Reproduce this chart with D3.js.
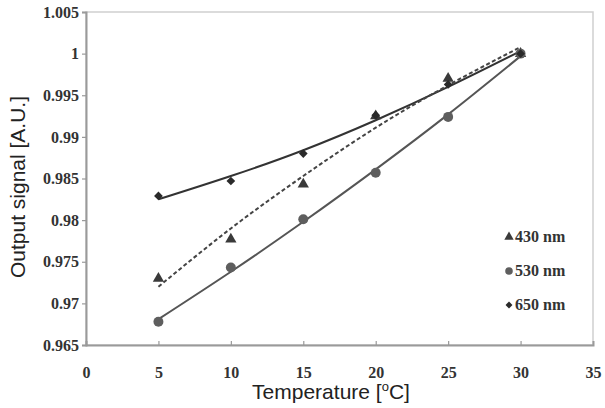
<!DOCTYPE html>
<html><head><meta charset="utf-8">
<script src="https://cdn.jsdelivr.net/npm/d3@7"></script>
<style>body{margin:0;background:#fff}svg{display:block}</style>
</head><body>
<svg id="c" width="605" height="408"></svg>
<script>
const temps = [5, 10, 15, 20, 25, 30];
const xTicks = [0, 5, 10, 15, 20, 25, 30, 35];
const yTicks = [0.965, 0.97, 0.975, 0.98, 0.985, 0.99, 0.995, 1, 1.005];
const yTickLabels = ["0.965", "0.97", "0.975", "0.98", "0.985", "0.99", "0.995", "1", "1.005"];
const seriesNames = ["430 nm", "530 nm", "650 nm"];
const data430 = [0.9730, 0.9777, 0.9843, 0.9925, 0.9970, 1.0000];
const data530 = [0.9678, 0.9743, 0.9801, 0.9857, 0.9924, 1.0000];
const data650 = [0.9829, 0.9847, 0.9880, 0.9926, 0.9963, 1.0000];
const fit430 = [0.9720, 0.9790, 0.9853, 0.9911, 0.9962, 1.0008];
const fit530 = [0.9681, 0.9738, 0.9798, 0.9861, 0.9927, 0.9997];
const fit650 = [0.9825, 0.9853, 0.9884, 0.9920, 0.9960, 1.0003];

const svg = d3.select("#c");
const L = 86, R = 593, T = 12, B = 345;
const x = d3.scaleLinear().domain([0, 35]).range([L, R]);
const y = d3.scaleLinear().domain([0.965, 1.005]).range([B, T]);

// frame (top/right light)
svg.append("rect").attr("x", L).attr("y", T).attr("width", R - L).attr("height", B - T)
  .attr("fill", "none").attr("stroke", "#cfcfcf").attr("stroke-width", 1.5);

// axes
const xAxis = d3.axisBottom(x).tickValues(xTicks).tickSize(-4).tickPadding(22).tickFormat(d3.format("d"));
const gx = svg.append("g").attr("transform", `translate(0,${B})`).call(xAxis);
const yAxis = d3.axisLeft(y).tickValues(yTicks).tickSize(4).tickPadding(3)
  .tickFormat((d, i) => yTickLabels[i]);
const gy = svg.append("g").attr("transform", `translate(${L},0)`).call(yAxis);
[gx, gy].forEach(g => {
  g.select(".domain").attr("stroke", "#9a9a9a").attr("stroke-width", 2);
  g.selectAll(".tick line").attr("stroke", "#9a9a9a").attr("stroke-width", 1.2);
  g.selectAll(".tick text").attr("font-family", "Liberation Serif, serif").attr("font-weight", "bold")
    .attr("font-size", 16).attr("fill", "#333");
});
gx.selectAll(".tick").filter(d => d === 0 || d === 35).select("line").remove();

// fits
const line = d3.line().x((d, i) => x(temps[i])).y(d => y(d)).curve(d3.curveNatural);
svg.append("path").attr("d", line(fit650)).attr("fill", "none").attr("stroke", "#333").attr("stroke-width", 2);
svg.append("path").attr("d", line(fit530)).attr("fill", "none").attr("stroke", "#555").attr("stroke-width", 2);
svg.append("path").attr("d", line(fit430)).attr("fill", "none").attr("stroke", "#444").attr("stroke-width", 2)
  .attr("stroke-dasharray", "4,2.5");

// markers
const symTri = d3.symbol().type(d3.symbolTriangle);
const symCirc = d3.symbol().type(d3.symbolCircle);
const symDiam = d3.symbol().type(d3.symbolSquare);
const series = [
  {vals: data430, sym: symTri, size: 55, lsize: 38, color: "#3a3a3a", rot: 0},
  {vals: data530, sym: symCirc, size: 78, lsize: 45, color: "#5e5e5e", rot: 0},
  {vals: data650, sym: symDiam, size: 38, lsize: 24, color: "#2a2a2a", rot: 45}
];
series.forEach(s => {
  svg.append("g").selectAll("path").data(s.vals).join("path")
    .attr("transform", (d, i) => `translate(${x(temps[i])},${y(d)}) rotate(${s.rot})`)
    .attr("d", s.sym.size(s.size)()).attr("fill", s.color);
});

// legend
const lg = svg.append("g");
series.forEach((s, i) => {
  const yy = 237 + i * 34;
  lg.append("path").attr("transform", `translate(509,${yy}) rotate(${s.rot})`).attr("d", s.sym.size(s.lsize)()).attr("fill", s.color);
  lg.append("text").attr("x", 515).attr("y", yy + 5).text(seriesNames[i])
    .attr("font-family", "Liberation Serif, serif").attr("font-weight", "bold").attr("font-size", 16).attr("fill", "#333");
});

// titles
const xt = svg.append("text").attr("x", 331).attr("y", 399).attr("text-anchor", "middle")
  .attr("font-family", "Liberation Sans, Arial, sans-serif").attr("font-size", 21).attr("fill", "#222");
xt.append("tspan").text("Temperature [");
xt.append("tspan").text("o").attr("font-size", 13).attr("dy", -8);
xt.append("tspan").text("C]").attr("dy", 8);

svg.append("text").attr("transform", "translate(25,187) rotate(-90)").attr("text-anchor", "middle")
  .attr("font-family", "Liberation Sans, Arial, sans-serif").attr("font-size", 21).attr("fill", "#222")
  .text("Output signal [A.U.]");
</script>
</body></html>
